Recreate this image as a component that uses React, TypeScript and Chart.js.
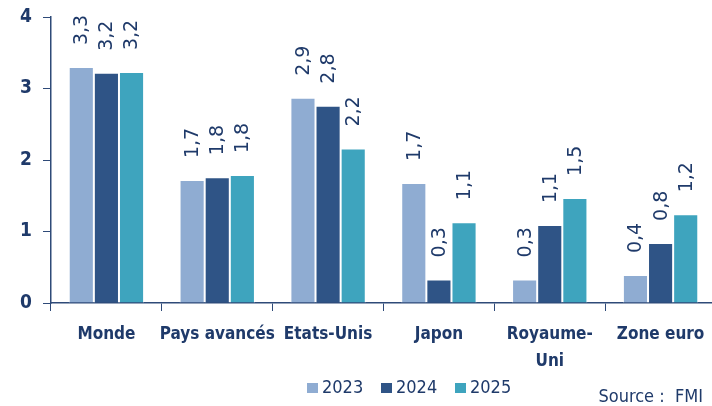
import React, { useEffect, useRef } from "react";
import { Chart, registerables } from "chart.js";

Chart.register(...registerables);

const categories: (string | string[])[] = ["Monde", "Pays avancés", "Etats-Unis", "Japon", ["Royaume-", "Uni"], "Zone euro"];
const seriesNames = ["2023", "2024", "2025"];
const values2023 = [3.3, 1.72, 2.87, 1.68, 0.33, 0.39];
const values2024 = [3.22, 1.76, 2.76, 0.33, 1.09, 0.84];
const values2025 = [3.23, 1.79, 2.16, 1.13, 1.47, 1.24];
const yTicks = [0, 1, 2, 3, 4];
const sourceText = "Source :  FMI";

const colors = ["#8FACD2", "#2F5486", "#3EA4BE"];
const navy = "#1F3A6A";
const axisColor = "#2E4A78";
const narrow = '"Liberation Sans Narrow", "DejaVu Sans Condensed", sans-serif';

const fmt = (v: number) => v.toFixed(1).replace(".", ",");

const labelPlugin = {
  id: "valueLabels",
  afterDatasetsDraw(chart: any) {
    const ctx = chart.ctx;
    ctx.save();
    ctx.fillStyle = navy;
    ctx.font = '19px "DejaVu Sans", sans-serif';
    ctx.textAlign = "left";
    ctx.textBaseline = "middle";
    chart.data.datasets.forEach((ds: any, i: number) => {
      const meta = chart.getDatasetMeta(i);
      meta.data.forEach((bar: any, j: number) => {
        ctx.save();
        ctx.translate(bar.x + 1, bar.y - 22);
        ctx.rotate(-Math.PI / 2);
        ctx.fillText(fmt(ds.data[j]), 0, 0);
        ctx.restore();
      });
    });
    ctx.restore();
  },
  afterDraw(chart: any) {
    const ctx = chart.ctx;
    ctx.save();
    const legendX = [307, 381, 455];
    const legendY = 388;
    ctx.font = `18px ${narrow}`;
    ctx.textBaseline = "middle";
    ctx.textAlign = "left";
    chart.data.datasets.forEach((ds: any, i: number) => {
      ctx.fillStyle = ds.backgroundColor;
      ctx.fillRect(legendX[i], legendY - 5, 11, 10);
      ctx.fillStyle = navy;
      ctx.fillText(ds.label, legendX[i] + 15, legendY);
    });
    ctx.textAlign = "right";
    ctx.fillText(sourceText, 703, 397);
    ctx.restore();
  },
};

export default function App() {
  const ref = useRef<HTMLCanvasElement>(null);
  useEffect(() => {
    if (!ref.current) return;
    const chart = new Chart(ref.current, {
      type: "bar",
      data: {
        labels: categories,
        datasets: [values2023, values2024, values2025].map((d, i) => ({
          label: seriesNames[i],
          data: d,
          backgroundColor: colors[i],
          borderColor: "#ffffff",
          borderWidth: 1,
          barPercentage: 1,
          categoryPercentage: 0.68,
        })),
      },
      options: {
        responsive: false,
        animation: false,
        devicePixelRatio: 1,
        layout: { padding: { top: 17, right: 2, left: 0, bottom: 0 } },
        plugins: { legend: { display: false }, tooltip: { enabled: false } },
        scales: {
          x: {
            grid: { display: true, drawOnChartArea: false, drawTicks: true, tickLength: 8, color: axisColor, lineWidth: 1 },
            border: { display: true, color: axisColor, width: 1.5 },
            ticks: { color: navy, padding: 10, font: { family: narrow, weight: "bold", size: 17, lineHeight: 1.6 }, maxRotation: 0, autoSkip: false },
            afterFit: (s: any) => { s.height = 103; s.paddingLeft = 0; s.paddingRight = 0; },
          },
          y: {
            min: 0,
            max: 4,
            afterBuildTicks: (s: any) => { s.ticks = yTicks.map((v) => ({ value: v })); },
            grid: { display: true, drawOnChartArea: false, drawTicks: true, tickLength: 8, color: axisColor, lineWidth: 1 },
            border: { display: true, color: axisColor, width: 1.5 },
            ticks: { color: navy, padding: 11, font: { family: narrow, weight: "bold", size: 19 } },
            afterFit: (s: any) => { s.width = 51; s.paddingTop = 0; s.paddingBottom = 0; },
          },
        },
      },
      plugins: [labelPlugin],
    });
    return () => chart.destroy();
  }, []);
  return (
    <div style={{ position: "fixed", left: 0, top: 0, width: 712, height: 406, overflow: "hidden", background: "#fff" }}>
      <canvas ref={ref} width={718} height={406} style={{ width: 718, height: 406, display: "block" }} />
    </div>
  );
}
